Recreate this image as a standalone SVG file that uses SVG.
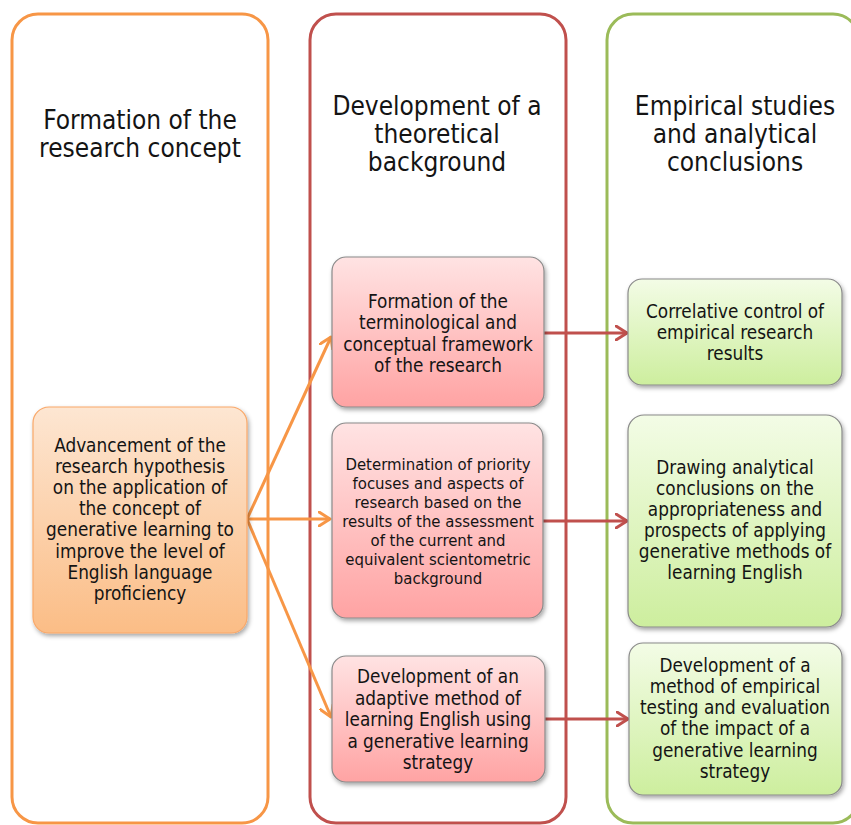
<svg xmlns="http://www.w3.org/2000/svg" width="851" height="825" viewBox="0 0 851 825">
<defs>
<style>
text{font-family:"DejaVu Sans Condensed","DejaVu Sans",sans-serif;fill:#141414;text-anchor:middle}
.title{font-size:26px}
.t{font-size:18.8px}
.s{font-size:16.6px}
.cont{fill:#ffffff;stroke-width:3}
.node{stroke-width:1.2}
.oa{stroke:#f79646;stroke-width:3;fill:none}
.ra{stroke:#c0504d;stroke-width:3;fill:none}
</style>
<linearGradient id="gO" x1="0" y1="0" x2="0" y2="1"><stop offset="0" stop-color="#fde6d2"/><stop offset="1" stop-color="#fbbd86"/></linearGradient>
<linearGradient id="gR" x1="0" y1="0" x2="0" y2="1"><stop offset="0" stop-color="#ffe3e3"/><stop offset="1" stop-color="#ffa3a3"/></linearGradient>
<linearGradient id="gG" x1="0" y1="0" x2="0" y2="1"><stop offset="0" stop-color="#f3fce6"/><stop offset="1" stop-color="#cdee9e"/></linearGradient>
<filter id="sh" x="-10%" y="-10%" width="125%" height="125%"><feDropShadow dx="1.5" dy="2.5" stdDeviation="2" flood-color="#000" flood-opacity="0.35"/></filter>
<marker id="mo" viewBox="0 0 14 16" refX="12" refY="8" markerWidth="14" markerHeight="16" markerUnits="userSpaceOnUse" orient="auto"><path d="M1,1 L12,8 L1,15" fill="none" stroke="#f79646" stroke-width="3" stroke-linecap="round" stroke-linejoin="round"/></marker>
<marker id="mr" viewBox="0 0 14 16" refX="12" refY="8" markerWidth="14" markerHeight="16" markerUnits="userSpaceOnUse" orient="auto"><path d="M1,1 L12,8 L1,15" fill="none" stroke="#c0504d" stroke-width="3" stroke-linecap="round" stroke-linejoin="round"/></marker>
</defs>
<rect width="851" height="825" fill="#ffffff"/>

<g id="col-concept">
<rect class="cont" x="12" y="14" width="256" height="809" rx="26" stroke="#f79646"/>
<text class="title" x="140" y="129">Formation of the</text>
<text class="title" x="140" y="157">research concept</text>
</g>
<g id="col-theory">
<rect class="cont" x="310" y="14" width="256" height="809" rx="26" stroke="#c0504d"/>
<text class="title" x="437" y="115">Development of a</text>
<text class="title" x="437" y="143">theoretical</text>
<text class="title" x="437" y="171">background</text>
</g>
<g id="col-empirical">
<rect class="cont" x="607" y="14" width="252" height="809" rx="26" stroke="#9bbb59"/>
<text class="title" x="735" y="115">Empirical studies</text>
<text class="title" x="735" y="143">and analytical</text>
<text class="title" x="735" y="171">conclusions</text>
</g>

<g id="connectors">
<line class="oa" x1="247" y1="519" x2="331" y2="337" marker-end="url(#mo)"/>
<line class="oa" x1="247" y1="519" x2="330" y2="519" marker-end="url(#mo)"/>
<line class="oa" x1="247" y1="519" x2="331" y2="717" marker-end="url(#mo)"/>
<line class="ra" x1="544" y1="333" x2="627" y2="333" marker-end="url(#mr)"/>
<line class="ra" x1="543" y1="521" x2="627" y2="521" marker-end="url(#mr)"/>
<line class="ra" x1="545" y1="719" x2="628" y2="719" marker-end="url(#mr)"/>
</g>

<g id="node-hypothesis">
<rect class="node" x="33" y="407" width="214" height="226" rx="16" fill="url(#gO)" stroke="#f9a869" filter="url(#sh)"/>
<text class="t" x="140" y="452">Advancement of the</text>
<text class="t" x="140" y="473">research hypothesis</text>
<text class="t" x="140" y="494">on the application of</text>
<text class="t" x="140" y="515">the concept of</text>
<text class="t" x="140" y="536">generative learning to</text>
<text class="t" x="140" y="558">improve the level of</text>
<text class="t" x="140" y="579">English language</text>
<text class="t" x="140" y="600">proficiency</text>
</g>

<g id="node-terminology">
<rect class="node" x="332" y="257" width="212" height="150" rx="14" fill="url(#gR)" stroke="#8a8a8a" filter="url(#sh)"/>
<text class="t" x="438" y="308">Formation of the</text>
<text class="t" x="438" y="329">terminological and</text>
<text class="t" x="438" y="351">conceptual framework</text>
<text class="t" x="438" y="372">of the research</text>
</g>

<g id="node-priorities">
<rect class="node" x="332" y="423" width="211" height="195" rx="14" fill="url(#gR)" stroke="#8a8a8a" filter="url(#sh)"/>
<text class="s" x="438" y="470">Determination of priority</text>
<text class="s" x="438" y="489">focuses and aspects of</text>
<text class="s" x="438" y="508">research based on the</text>
<text class="s" x="438" y="527">results of the assessment</text>
<text class="s" x="438" y="546">of the current and</text>
<text class="s" x="438" y="565">equivalent scientometric</text>
<text class="s" x="438" y="584">background</text>
</g>

<g id="node-adaptive">
<rect class="node" x="332" y="656" width="213" height="126" rx="14" fill="url(#gR)" stroke="#8a8a8a" filter="url(#sh)"/>
<text class="t" x="438" y="683">Development of an</text>
<text class="t" x="438" y="705">adaptive method of</text>
<text class="t" x="438" y="726">learning English using</text>
<text class="t" x="438" y="748">a generative learning</text>
<text class="t" x="438" y="769">strategy</text>
</g>

<g id="node-correlative">
<rect class="node" x="628" y="279" width="214" height="106" rx="14" fill="url(#gG)" stroke="#8a8a8a" filter="url(#sh)"/>
<text class="t" x="735" y="318">Correlative control of</text>
<text class="t" x="735" y="339">empirical research</text>
<text class="t" x="735" y="360">results</text>
</g>

<g id="node-conclusions">
<rect class="node" x="628" y="415" width="214" height="212" rx="16" fill="url(#gG)" stroke="#8a8a8a" filter="url(#sh)"/>
<text class="t" x="735" y="474">Drawing analytical</text>
<text class="t" x="735" y="495">conclusions on the</text>
<text class="t" x="735" y="516">appropriateness and</text>
<text class="t" x="735" y="537">prospects of applying</text>
<text class="t" x="735" y="558">generative methods of</text>
<text class="t" x="735" y="579">learning English</text>
</g>

<g id="node-testing">
<rect class="node" x="629" y="643" width="213" height="152" rx="14" fill="url(#gG)" stroke="#8a8a8a" filter="url(#sh)"/>
<text class="t" x="735" y="672">Development of a</text>
<text class="t" x="735" y="693">method of empirical</text>
<text class="t" x="735" y="714">testing and evaluation</text>
<text class="t" x="735" y="735">of the impact of a</text>
<text class="t" x="735" y="757">generative learning</text>
<text class="t" x="735" y="778">strategy</text>
</g>
</svg>
